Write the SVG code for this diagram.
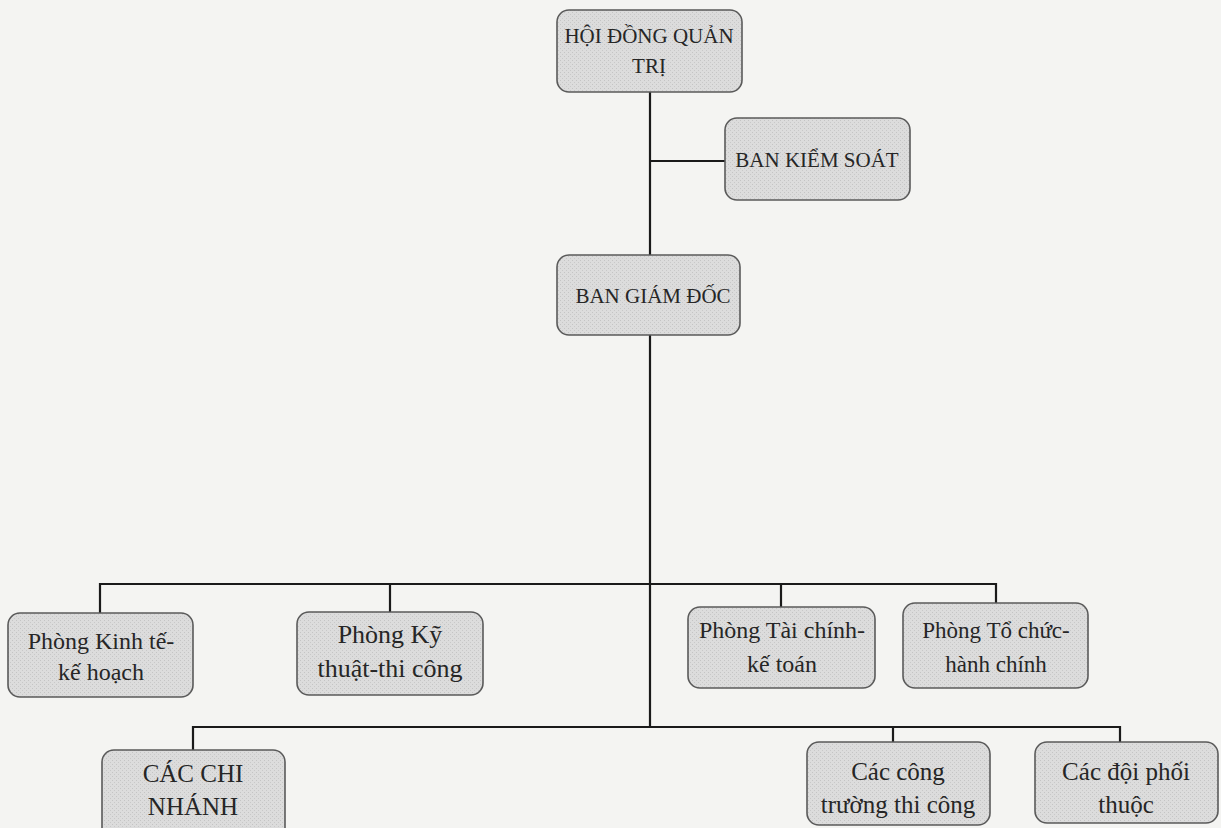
<svg xmlns="http://www.w3.org/2000/svg" width="1221" height="828" viewBox="0 0 1221 828">
<defs>
<pattern id="dots" width="4" height="4" patternUnits="userSpaceOnUse">
<rect width="4" height="4" fill="#dcdcdc"/>
<rect x="0" y="0" width="1" height="1" fill="#c4c4c4"/>
<rect x="2" y="2" width="1" height="1" fill="#c8c8c8"/>
</pattern>
</defs>
<style>
.box{fill:url(#dots);stroke:#5a5a5a;stroke-width:1.6}
.t{font-family:"Liberation Serif","DejaVu Serif",serif;fill:#262626;text-anchor:middle}
.c{stroke:#1a1a1a;stroke-width:2.2;fill:none}
</style>
<rect width="1221" height="828" fill="#f4f4f2"/>
<g id="connectors">
<path class="c" d="M650 92 V727"/>
<path class="c" d="M650 161 H725"/>
<path class="c" d="M100 613 V584 H996 V603"/>
<path class="c" d="M390 584 V612"/>
<path class="c" d="M781 584 V607"/>
<path class="c" d="M193 750 V727 H1120 V742"/>
<path class="c" d="M893 727 V742"/>
</g>
<g id="n_hdqt">
<rect class="box" x="557" y="10" width="185" height="82" rx="12"/>
<text class="t" x="649" y="43" font-size="21">HỘI ĐỒNG QUẢN</text>
<text class="t" x="649" y="73" font-size="21">TRỊ</text>
</g>
<g id="n_bks">
<rect class="box" x="725" y="118" width="185" height="82" rx="12"/>
<text class="t" x="817" y="167" font-size="21">BAN KIỂM SOÁT</text>
</g>
<g id="n_bgd">
<rect class="box" x="557" y="255" width="183" height="80" rx="12"/>
<text class="t" x="653" y="303" font-size="21">BAN GIÁM ĐỐC</text>
</g>
<g id="n_ktkh">
<rect class="box" x="8" y="613" width="185" height="84" rx="12"/>
<text class="t" x="101" y="649" font-size="24">Phòng Kinh tế-</text>
<text class="t" x="101" y="680" font-size="24">kế hoạch</text>
</g>
<g id="n_kttc">
<rect class="box" x="297" y="612" width="186" height="83" rx="12"/>
<text class="t" x="390" y="643" font-size="26">Phòng Kỹ</text>
<text class="t" x="390" y="677" font-size="26">thuật-thi công</text>
</g>
<g id="n_tckt">
<rect class="box" x="688" y="607" width="187" height="81" rx="12"/>
<text class="t" x="782" y="638" font-size="24">Phòng Tài chính-</text>
<text class="t" x="782" y="672" font-size="24">kế toán</text>
</g>
<g id="n_tchc">
<rect class="box" x="903" y="603" width="185" height="85" rx="12"/>
<text class="t" x="996" y="638" font-size="23">Phòng Tổ chức-</text>
<text class="t" x="996" y="672" font-size="23">hành chính</text>
</g>
<g id="n_cn">
<rect class="box" x="102" y="750" width="183" height="90" rx="12"/>
<text class="t" x="193" y="782" font-size="25">CÁC CHI</text>
<text class="t" x="193" y="815" font-size="25">NHÁNH</text>
</g>
<g id="n_ct">
<rect class="box" x="807" y="742" width="183" height="83" rx="12"/>
<text class="t" x="898" y="780" font-size="25">Các công</text>
<text class="t" x="898" y="813" font-size="25">trường thi công</text>
</g>
<g id="n_dpt">
<rect class="box" x="1035" y="742" width="183" height="81" rx="12"/>
<text class="t" x="1126" y="780" font-size="25">Các đội phối</text>
<text class="t" x="1126" y="813" font-size="25">thuộc</text>
</g>
</svg>
